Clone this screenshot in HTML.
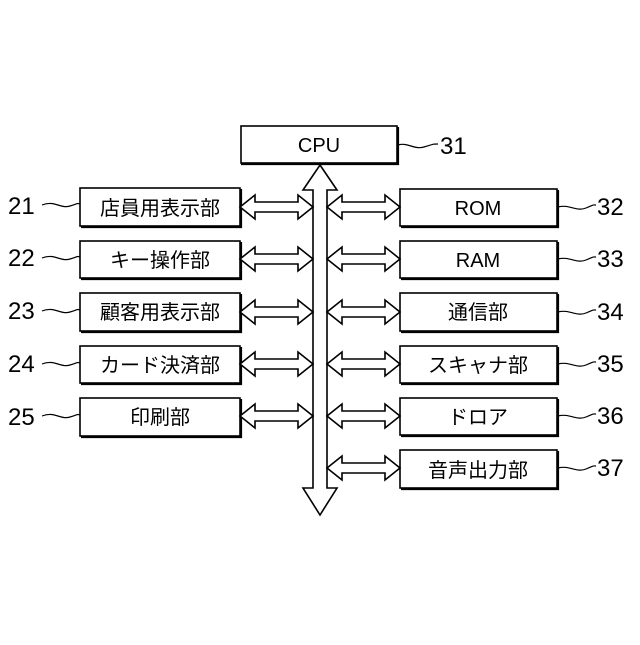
<!DOCTYPE html>
<html><head><meta charset="utf-8"><style>
html,body{margin:0;padding:0;background:#fff;}
svg text{font-family:"Liberation Sans","Noto Sans CJK JP",sans-serif;fill:#000;}
</style></head><body>
<svg width="640" height="640" viewBox="0 0 640 640" xmlns="http://www.w3.org/2000/svg">
<defs>
<g id="dbl">
<path d="M0,0 L15,-12 L15,-5 L58,-5 L58,-12 L73,0 L58,12 L58,5 L15,5 L15,12 Z" fill="#fff" stroke="#000" stroke-width="1.6" stroke-linejoin="miter"/>
</g>
</defs>
<g fill="#fff" stroke="#000" stroke-width="1.6">
<rect x="241" y="126" width="156" height="37"/>
<rect x="80" y="188" width="160" height="38"/>
<rect x="80" y="241" width="160" height="37"/>
<rect x="80" y="293" width="160" height="38"/>
<rect x="80" y="346" width="160" height="37"/>
<rect x="80" y="398" width="160" height="38"/>
<rect x="400" y="189" width="157" height="37"/>
<rect x="400" y="241" width="157" height="37"/>
<rect x="400" y="293" width="157" height="38"/>
<rect x="400" y="346" width="157" height="37"/>
<rect x="400" y="398" width="157" height="37"/>
<rect x="400" y="450" width="157" height="38"/>
</g>
<g stroke="#000" stroke-width="2.2" fill="none">
<path d="M241,164 H398 V127"/>
<path d="M81,227 H241 V189"/><path d="M81,279 H241 V242"/><path d="M81,332 H241 V294"/><path d="M81,384 H241 V347"/><path d="M81,437 H241 V399"/>
<path d="M401,227 H558 V190"/><path d="M401,279 H558 V242"/><path d="M401,332 H558 V294"/><path d="M401,384 H558 V347"/><path d="M401,436 H558 V399"/><path d="M401,489 H558 V451"/>
</g>
<path d="M320,165 L337,190 L327,190 L327,488 L337,488 L320,515 L303,488 L313,488 L313,190 L303,190 Z" fill="#fff" stroke="#000" stroke-width="1.6"/>
<use href="#dbl" x="240" y="207"/><use href="#dbl" x="240" y="259"/><use href="#dbl" x="240" y="312"/><use href="#dbl" x="240" y="364"/><use href="#dbl" x="240" y="416"/>
<use href="#dbl" x="327" y="207"/><use href="#dbl" x="327" y="259"/><use href="#dbl" x="327" y="312"/><use href="#dbl" x="327" y="364"/><use href="#dbl" x="327" y="416"/><use href="#dbl" x="327" y="468"/>
<g font-size="20" text-anchor="middle">
<text x="319" y="152">CPU</text>
<text x="160" y="215">店員用表示部</text>
<text x="160" y="267">キー操作部</text>
<text x="160" y="319">顧客用表示部</text>
<text x="160" y="372">カード決済部</text>
<text x="160" y="424">印刷部</text>
<text x="478" y="215">ROM</text>
<text x="478" y="267">RAM</text>
<text x="478" y="319">通信部</text>
<text x="478" y="372">スキャナ部</text>
<text x="478" y="424">ドロア</text>
<text x="478" y="477">音声出力部</text>
</g>
<g font-size="24">
<text x="8" y="214">21</text><text x="8" y="266">22</text><text x="8" y="319">23</text><text x="8" y="372">24</text><text x="8" y="425">25</text>
<text x="440" y="154">31</text>
<text x="597" y="215">32</text><text x="597" y="267">33</text><text x="597" y="320">34</text><text x="597" y="372">35</text><text x="597" y="424">36</text><text x="597" y="476">37</text>
</g>
<g stroke="#000" stroke-width="1.2" fill="none">
<path d="M42,205 C55,200 60,209 70,206 S76,203 80,204"/>
<path d="M42,258 C55,253 60,262 70,259 S76,256 80,257"/>
<path d="M42,311 C55,306 60,315 70,312 S76,309 80,310"/>
<path d="M42,364 C55,359 60,368 70,365 S76,362 80,363"/>
<path d="M42,416 C55,411 60,420 70,417 S76,414 80,415"/>
<path d="M398,145 C408,142 414,150 424,147 S432,144 438,144"/>
<path d="M558,207 C570,204 576,212 586,208 S592,205 596,205"/>
<path d="M558,259 C570,256 576,264 586,260 S592,257 596,257"/>
<path d="M558,312 C570,309 576,317 586,313 S592,310 596,310"/>
<path d="M558,364 C570,361 576,369 586,365 S592,362 596,362"/>
<path d="M558,416 C570,413 576,421 586,417 S592,414 596,414"/>
<path d="M558,468 C570,465 576,473 586,469 S592,466 596,466"/>
</g>
</svg>
</body></html>
